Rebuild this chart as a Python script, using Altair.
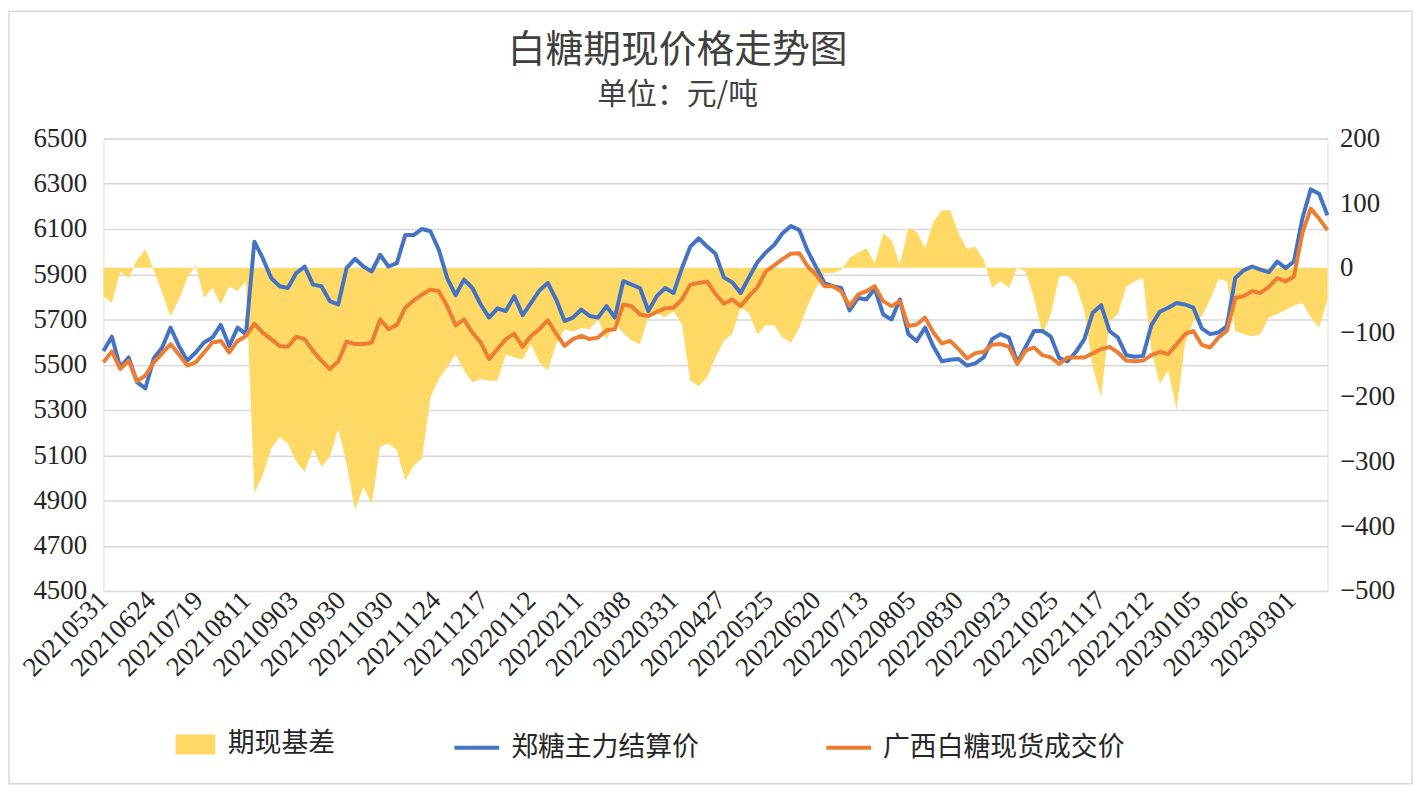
import altair as alt
import pandas as pd

# x-axis category labels (one every 17 trading days)
tick_labels = ["20210531", "20210624", "20210719", "20210811", "20210903", "20210930",
               "20211030", "20211124", "20211217", "20220112", "20220211", "20220308",
               "20220331", "20220427", "20220525", "20220620", "20220713", "20220805",
               "20220830", "20220923", "20221025", "20221117", "20221212", "20230105",
               "20230206", "20230301"]

# 郑糖主力结算价 (sampled every 3 trading days)
futures = [5561, 5624, 5488, 5532, 5423, 5395, 5528, 5576, 5664, 5583, 5518, 5554, 5598,
           5620, 5676, 5583, 5664, 5635, 6044, 5971, 5883, 5847, 5839, 5905, 5934,
           5854, 5847, 5781, 5766, 5927, 5968, 5934, 5912, 5986, 5934, 5949, 6073, 6073,
           6100, 6090, 6008, 5883, 5807, 5876, 5839, 5766, 5708, 5749, 5737,
           5803, 5719, 5773, 5828, 5861, 5788, 5693, 5708, 5744, 5715, 5708, 5759, 5708,
           5869, 5854, 5839, 5737, 5803, 5839, 5817, 5927, 6022, 6059, 6022,
           5990, 5886, 5864, 5817, 5886, 5953, 5996, 6029, 6081, 6113, 6095, 6003, 5931,
           5861, 5847, 5839, 5740, 5795, 5788, 5836, 5722, 5700, 5788, 5635, 5605,
           5664, 5580, 5515, 5522, 5525, 5496, 5506, 5532, 5613, 5635, 5620, 5510, 5579,
           5649, 5649, 5624, 5529, 5515, 5557, 5613, 5730, 5763, 5649, 5620,
           5542, 5535, 5539, 5675, 5734, 5752, 5773, 5766, 5752, 5661, 5635, 5642, 5671,
           5883, 5917, 5934, 5920, 5909, 5956, 5927, 5956, 6146, 6275, 6256, 6161]

# 广西白糖现货成交价
spot = [5510, 5559, 5481, 5518, 5427, 5452, 5510, 5550, 5591, 5545, 5496, 5510, 5554,
        5598, 5605, 5554, 5605, 5627, 5681, 5642, 5613, 5583, 5579, 5624, 5613,
        5561, 5518, 5481, 5514, 5602, 5591, 5591, 5598, 5700, 5657, 5676, 5752, 5784,
        5810, 5832, 5825, 5759, 5674, 5700, 5642, 5598, 5525, 5569, 5613,
        5637, 5579, 5627, 5657, 5696, 5637, 5583, 5613, 5627, 5613, 5620, 5652, 5657,
        5766, 5759, 5722, 5715, 5733, 5749, 5752, 5788, 5854, 5861, 5868,
        5813, 5769, 5788, 5759, 5803, 5842, 5912, 5939, 5967, 5991, 5993, 5934, 5898,
        5847, 5847, 5825, 5759, 5810, 5825, 5847, 5781, 5759, 5781, 5671, 5678,
        5708, 5642, 5594, 5605, 5569, 5528, 5551, 5557, 5588, 5591, 5580, 5503, 5562,
        5576, 5542, 5532, 5503, 5532, 5532, 5532, 5550, 5569, 5579, 5554,
        5518, 5515, 5518, 5542, 5557, 5547, 5590, 5635, 5649, 5588, 5576, 5620, 5649,
        5795, 5803, 5825, 5817, 5844, 5883, 5868, 5890, 6081, 6190, 6146, 6095]

# 期现基差
basis = [-44, -54, -6, -16, 12, 29, -3, -39, -75, -49, -16, 5, -47, -31, -57, -29, -36,
         -21, -349, -321, -280, -262, -272, -300, -316,
         -280, -308, -293, -249, -303, -375, -339, -365, -277, -272, -282, -329, -306,
         -295, -200, -172, -154, -134, -159, -177, -172, -175, -175, -134,
         -139, -142, -118, -147, -159, -118, -95, -99, -93, -95, -80, -111, -85, -101,
         -113, -118, -75, -70, -77, -67, -88, -175, -183, -170,
         -139, -113, -102, -62, -70, -103, -89, -89, -108, -116, -93, -59, -31, -8, -8,
         -3, 15, 23, 30, 7, 53, 43, 5, 61, 56,
         30, 71, 89, 89, 53, 29, 33, 12, -31, -21, -31, 0, -6, -47, -103, -72, -13, -12,
         -26, -67, -154, -200, -83, -72,
         -29, -21, -16, -129, -180, -159, -220, -118, -83, -75, -49, -18, -21, -98, -103,
         -106, -103, -77, -72, -65, -59, -54, -77, -93, -49]

series_names = ["期现基差", "郑糖主力结算价", "广西白糖现货成交价"]
colors = ["#FFD966", "#4472C4", "#ED7D31"]

STEP = 3
n = min(len(futures), len(spot), len(basis))
day = [i * STEP for i in range(n)]
last_day = day[-1]

df_basis = pd.DataFrame({"day": day, "value": basis[:n], "series": series_names[0]})
df_lines = pd.concat([
    pd.DataFrame({"day": day, "value": futures[:n], "series": series_names[1]}),
    pd.DataFrame({"day": day, "value": spot[:n], "series": series_names[2]}),
])

FONT_CJK = "Noto Sans CJK SC"
FONT_NUM = "Liberation Serif"
TXT = "#262626"

W, H = 1231, 455
PAD = {"left": 96, "top": 129, "right": 86, "bottom": 195}

label_expr = "[" + ",".join("'%s'" % s for s in tick_labels) + "][round(datum.value / 17)]"

x_enc = alt.X(
    "day:Q",
    scale=alt.Scale(domain=[0, last_day], nice=False, zero=False),
    axis=alt.Axis(
        values=[17 * k for k in range(len(tick_labels))],
        labelExpr=label_expr,
        labelAngle=315,
        labelAlign="right",
        labelBaseline="middle",
        labelFont=FONT_NUM,
        labelFontSize=27,
        labelColor=TXT,
        labelPadding=5,
        labelOverlap=False,
        labelBound=False,
        grid=False,
        domain=False,
        ticks=False,
        title=None,
    ),
)

area = alt.Chart(df_basis).mark_area(opacity=1).encode(
    x=x_enc,
    y=alt.Y(
        "value:Q",
        scale=alt.Scale(domain=[-500, 200], nice=False, zero=False),
        axis=alt.Axis(
            orient="right",
            values=list(range(-500, 201, 100)),
            format="d",
            grid=False,
            domain=False,
            ticks=False,
            labelFont=FONT_NUM,
            labelFontSize=27,
            labelColor=TXT,
            labelPadding=12,
            title=None,
        ),
    ),
    y2=alt.datum(0),
    fill=alt.Fill(
        "series:N",
        scale=alt.Scale(domain=[series_names[0]], range=[colors[0]]),
        legend=alt.Legend(
            orient="none",
            legendX=79,
            legendY=596,
            title=None,
            symbolType="M-2,-1H2V1H-2Z",
            symbolSize=400,
            symbolStrokeWidth=0,
            symbolOpacity=1,
            labelFont=FONT_CJK,
            labelFontSize=27,
            labelColor=TXT,
            labelOffset=19,
        ),
    ),
)

lines = alt.Chart(df_lines).mark_line(strokeWidth=4, strokeJoin="round").encode(
    x=x_enc,
    y=alt.Y(
        "value:Q",
        scale=alt.Scale(domain=[4500, 6500], nice=False, zero=False),
        axis=alt.Axis(
            orient="left",
            values=list(range(4500, 6501, 200)),
            format="d",
            grid=True,
            gridColor="#D9D9D9",
            gridWidth=1.5,
            domain=False,
            ticks=False,
            labelFont=FONT_NUM,
            labelFontSize=27,
            labelColor=TXT,
            labelPadding=17,
            title=None,
        ),
    ),
    stroke=alt.Stroke(
        "series:N",
        scale=alt.Scale(domain=series_names[1:], range=colors[1:]),
        legend=alt.Legend(
            orient="none",
            legendX=351,
            legendY=588,
            direction="horizontal",
            title=None,
            symbolType="stroke",
            symbolSize=2025,
            symbolStrokeWidth=4,
            labelFont=FONT_CJK,
            labelFontSize=27,
            labelColor=TXT,
            labelOffset=10,
            columnPadding=120,
            labelLimit=400,
        ),
    ),
    order="day:Q",
)

# thin outer frame of the chart area (decoration)
frame = alt.Chart(pd.DataFrame({"f": [0]})).mark_rect(
    fill=None, stroke="#D9D9D9", strokeWidth=1.5
).encode(
    x=alt.value(-PAD["left"] + 1),
    x2=alt.value(W + PAD["right"] - 1),
    y=alt.value(-PAD["top"] + 1),
    y2=alt.value(H + PAD["bottom"] - 1),
)

chart = alt.layer(area, lines, frame).resolve_scale(
    y="independent", fill="independent", stroke="independent"
).properties(
    width=W,
    height=H,
    autosize=alt.AutoSizeParams(type="none"),
    padding=PAD,
    title=alt.TitleParams(
        text="白糖期现价格走势图",
        subtitle="单位：元/吨",
        font=FONT_CJK,
        subtitleFont=FONT_CJK,
        fontSize=38,
        subtitleFontSize=30,
        fontWeight="normal",
        color="#404040",
        subtitleColor="#404040",
        anchor="middle",
        frame="group",
        dx=-38,
        offset=-100,
        subtitlePadding=10,
    ),
).configure_view(stroke=None).configure(background="white")

chart.save("out.html", embed_options={"renderer": "svg", "actions": False})
